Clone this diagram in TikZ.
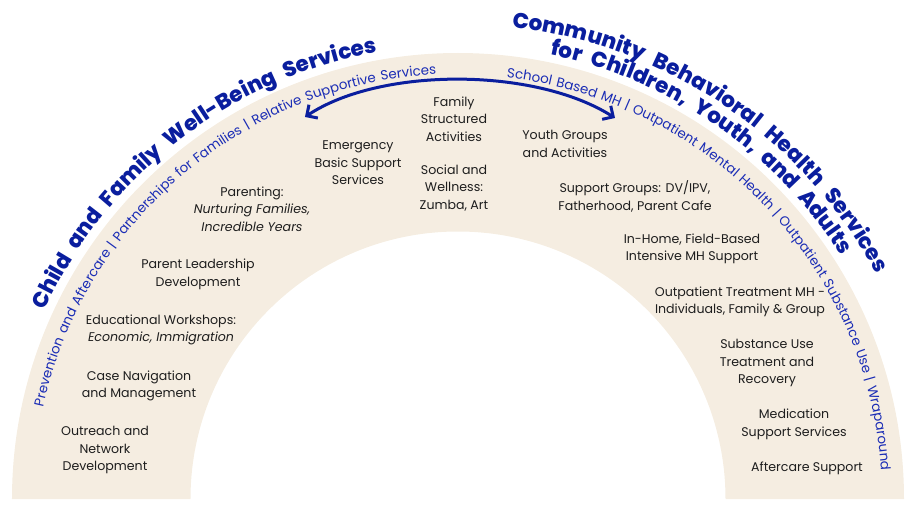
\documentclass[tikz,border=0pt]{standalone}
\usepackage{fontspec}
\setmainfont{Poppins}
\IfFontExistsTF{Poppins ExtraBold}{\newfontfamily\titlefont{Poppins ExtraBold}}{\newcommand\titlefont{\bfseries}}
\usetikzlibrary{decorations.text,arrows.meta}
\definecolor{archbeige}{HTML}{F5EDE1}
\definecolor{titleblue}{HTML}{0A1E9E}
\definecolor{subblue}{HTML}{1A2CB5}
\definecolor{bodytext}{HTML}{1E1E1E}
\begin{document}
\begin{tikzpicture}[x=1pt,y=1pt,
  item/.style={align=center,text=bodytext,font=\fontsize{12.6}{17.5}\selectfont,inner sep=0pt},
  titlearc/.style={decorate,decoration={text along path,text format delimiters={[}{]},
      text color=titleblue,text align={fit to path stretching spaces},text={[\fontsize{21.5}{21.5}\titlefont]#1}}},
  subarc/.style={decorate,decoration={text along path,text format delimiters={[}{]},
      text color=subblue,text align={fit to path stretching spaces},text={[\fontsize{13.4}{13.4}\selectfont]#1}}},
  linkarrow/.style={draw=titleblue,line width=3pt,{Straight Barb[length=8pt,width=16pt]}-{Straight Barb[length=8pt,width=16pt]}}
]
\useasboundingbox (-458pt,-13pt) rectangle (451pt,499pt);
% arch
\fill[archbeige] (-446pt,0pt) arc[start angle=180,end angle=0,radius=446pt]
  -- (267.5pt,0pt) arc[start angle=0,end angle=180,radius=267.5pt] -- cycle;
% titles
\path[titlearc={Child and Family Well-Being Services}] (155.5:454pt) arc[start angle=155.5,end angle=100.2,radius=454pt];
\path[titlearc={Community Behavioral Health Services}] (83.5:475pt) arc[start angle=83.5,end angle=28.3,radius=475pt];
\path[titlearc={for Children, Youth, and Adults}] (78.3:454pt) arc[start angle=78.3,end angle=32.4,radius=454pt];
% sub arcs
\path[subarc={Prevention and Aftercare | Partnerships for Families | Relative Supportive Services}] (167.5:425pt) arc[start angle=167.5,end angle=93,radius=425pt];
\path[subarc={School Based MH | Outpatient Mental Health | Outpatient Substance Use | Wraparound}] (83.4:424pt) arc[start angle=83.4,end angle=3.9,radius=424pt];
% arrow
\coordinate (aL) at (-153pt,382pt);
\coordinate (aR) at (157pt,381pt);
\draw[linkarrow] (aL) .. controls (-78pt,432pt) and (77pt,432pt) .. (aR);
% items
\node[item] (fam) at (-4pt,380pt) {Family\\Structured\\Activities};
\node[item] (soc) at (-4pt,311pt) {Social and\\Wellness:\\Zumba, Art};
\node[item] (emg) at (-100pt,336pt) {Emergency\\Basic Support\\Services};
\node[item] (youth) at (107pt,355pt) {Youth Groups\\and Activities};
\node[item] (par) at (-206pt,290pt) {Parenting:\\\textit{Nurturing Families,}\\\textit{Incredible Years}};
\node[item] (lead) at (-260pt,224.5pt) {Parent Leadership\\Development};
\node[item] (edu) at (-297pt,169pt) {Educational Workshops:\\\textit{Economic, Immigration}};
\node[item] (case) at (-319pt,113pt) {Case Navigation\\and Management};
\node[item] (out) at (-353pt,49pt) {Outreach and\\Network\\Development};
\node[item] (sup) at (177pt,302.5pt) {Support Groups: DV/IPV,\\Fatherhood, Parent Cafe};
\node[item] (home) at (234pt,250pt) {In-Home, Field-Based\\Intensive MH Support};
\node[item] (opt) at (282pt,197pt) {Outpatient Treatment MH -\\Individuals, Family \& Group};
\node[item] (sub) at (309pt,136pt) {Substance Use\\Treatment and\\Recovery};
\node[item] (med) at (336pt,74.5pt) {Medication\\Support Services};
\node[item] (after) at (349pt,31pt) {Aftercare Support};
\end{tikzpicture}
\end{document}
